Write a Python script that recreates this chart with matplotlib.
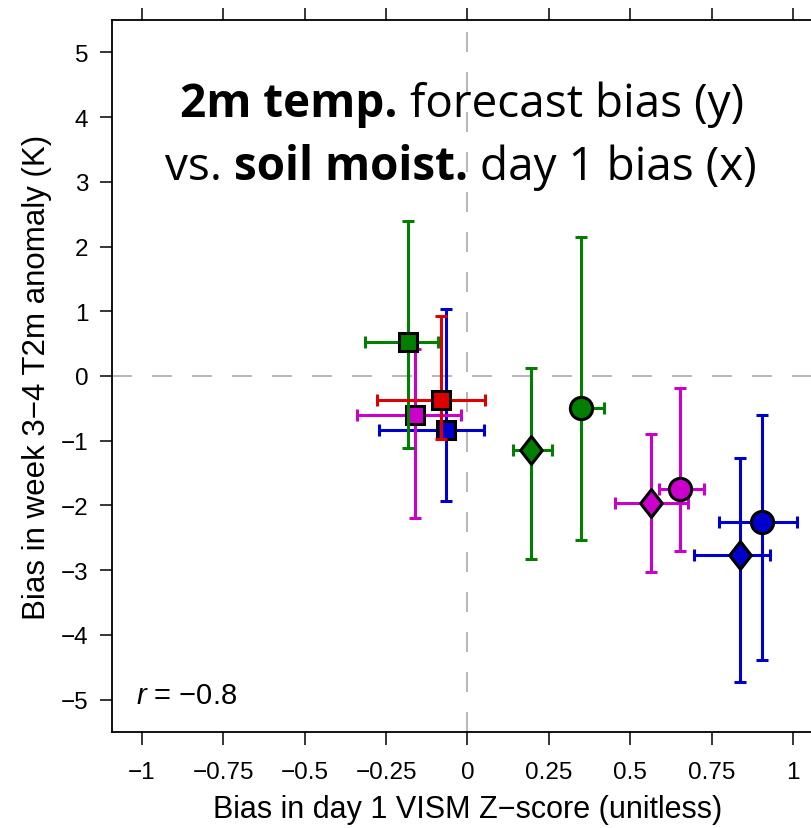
import matplotlib
matplotlib.use("Agg")
import matplotlib.pyplot as plt
from matplotlib.path import Path

plt.rcParams["font.family"] = ["Liberation Sans", "DejaVu Sans"]
plt.rcParams["mathtext.fontset"] = "custom"
plt.rcParams["mathtext.it"] = "Liberation Sans:italic"
plt.rcParams["mathtext.rm"] = "Liberation Sans"

# -------------------------------
# DATA
# -------------------------------
group = ["blue", "magenta", "green", "red",
         "green", "green", "magenta", "magenta", "blue", "blue"]
kind = ["square", "square", "square", "square",
        "diamond", "circle", "diamond", "circle", "diamond", "circle"]

x_mid = [-0.067, -0.160, -0.182, -0.081, 0.194, 0.349, 0.564, 0.652, 0.837, 0.905]
y_mid = [-0.84, -0.61, 0.53, -0.37, -1.14, -0.50, -1.96, -1.75, -2.77, -2.26]

x_lo = [-0.272, -0.340, -0.315, -0.277, 0.140, 0.335, 0.454, 0.587, 0.697, 0.774]
x_hi = [0.050, -0.021, -0.091, 0.053, 0.260, 0.418, 0.677, 0.728, 0.929, 1.013]
y_lo = [-1.93, -2.19, -1.12, -0.98, -2.82, -2.54, -3.03, -2.71, -4.73, -4.39]
y_hi = [1.04, 0.41, 2.40, 0.93, 0.13, 2.15, -0.89, -0.18, -1.26, -0.60]

x_ticks = [-1, -0.75, -0.5, -0.25, 0, 0.25, 0.5, 0.75, 1]
x_tick_labels = ["\u22121", "\u22120.75", "\u22120.5", "\u22120.25", "0",
                 "0.25", "0.5", "0.75", "1"]
y_ticks = [-5, -4, -3, -2, -1, 0, 1, 2, 3, 4, 5]
y_tick_labels = [str(v).replace("-", "\u2212") for v in y_ticks]

title_line1 = [("2m temp.", "bold"), ("forecast bias (y)", "normal")]
title_line2 = [("vs.", "normal"), ("soil moist.", "bold"), ("day 1 bias (x)", "normal")]

r_value = "\u22120.8"

# -------------------------------
# STYLES
# -------------------------------
colors = {"green": "#007F00", "red": "#DD0000",
          "magenta": "#CC00CC", "blue": "#0000CC"}
diamond = Path([(0, 1), (0.78, 0), (0, -1), (-0.78, 0), (0, 1)],
               [Path.MOVETO, Path.LINETO, Path.LINETO, Path.LINETO, Path.CLOSEPOLY])
markers = {"square": ("s", 12.5), "circle": ("o", 16), "diamond": (diamond, 20)}

# -------------------------------
# PLOT
# -------------------------------
fig = plt.figure(figsize=(8.12, 8.29), dpi=100)
ax = fig.add_axes([0.1379, 0.1158, 0.8756, 0.8589])

ax.axhline(0, color="#AAAAAA", lw=1.2, dashes=(12, 12), zorder=1)
ax.axvline(0, color="#AAAAAA", lw=1.2, dashes=(12, 12), zorder=1)

for i in range(len(x_mid)):
    c = colors[group[i]]
    m, ms = markers[kind[i]]
    ax.errorbar(
        [x_mid[i]], [y_mid[i]],
        xerr=[[x_mid[i] - x_lo[i]], [x_hi[i] - x_mid[i]]],
        yerr=[[y_mid[i] - y_lo[i]], [y_hi[i] - y_mid[i]]],
        fmt="none", ecolor=c, elinewidth=2.2, capsize=4, capthick=2.2,
        zorder=2 + 2 * i,
    )
    ax.plot([x_mid[i]], [y_mid[i]], marker=m, ms=ms, mfc=c, mec="black",
            mew=2.2, ls="none", zorder=3 + 2 * i)

ax.set_xlim(-1.092, 1.092)
ax.set_ylim(-5.5, 5.5)

ax.set_xticks(x_ticks)
ax.set_xticklabels(x_tick_labels)
ax.set_yticks(y_ticks)
ax.set_yticklabels(y_tick_labels)
ax.tick_params(axis="both", direction="out", length=9, width=1.1,
               labelsize=17.5, color="black")
ax.tick_params(axis="x", pad=12, top=True)
ax.tick_params(axis="y", pad=8)
for s in ax.spines.values():
    s.set_linewidth(1.3)

ax.set_xlabel("Bias in day 1 VISM Z\u2212score (unitless)", fontsize=22, labelpad=8)
ax.set_ylabel("Bias in week 3\u22124 T2m anomaly (K)", fontsize=22.5, labelpad=6)

ax.text(-1.018, -4.93, r"$r$ = " + r_value, fontsize=21, ha="left", va="center")

# -------------------------------
# TITLE (mixed bold / normal, placed piece by piece)
# -------------------------------
title_size = 33
renderer = fig.canvas.get_renderer()


def text_width(s, weight):
    t = fig.text(0, 0, s, fontsize=title_size, family="Open Sans", fontweight=weight)
    w = t.get_window_extent(renderer).width
    t.remove()
    return w


space_w = text_width("a a", "normal") - text_width("aa", "normal")


def draw_line(pieces, xc, yc):
    widths = [text_width(s, w) for s, w in pieces]
    total = sum(widths) + space_w * (len(pieces) - 1)
    x = xc * fig.bbox.width - total / 2
    for (s, w), pw in zip(pieces, widths):
        fig.text(x / fig.bbox.width, yc, s, fontsize=title_size, family="Open Sans",
                 fontweight=w, ha="left", va="baseline")
        x += pw + space_w


draw_line(title_line1, 0.569, 1 - 117 / 829)
draw_line(title_line2, 0.568, 1 - 180 / 829)

fig.savefig("out.png", dpi=100)
